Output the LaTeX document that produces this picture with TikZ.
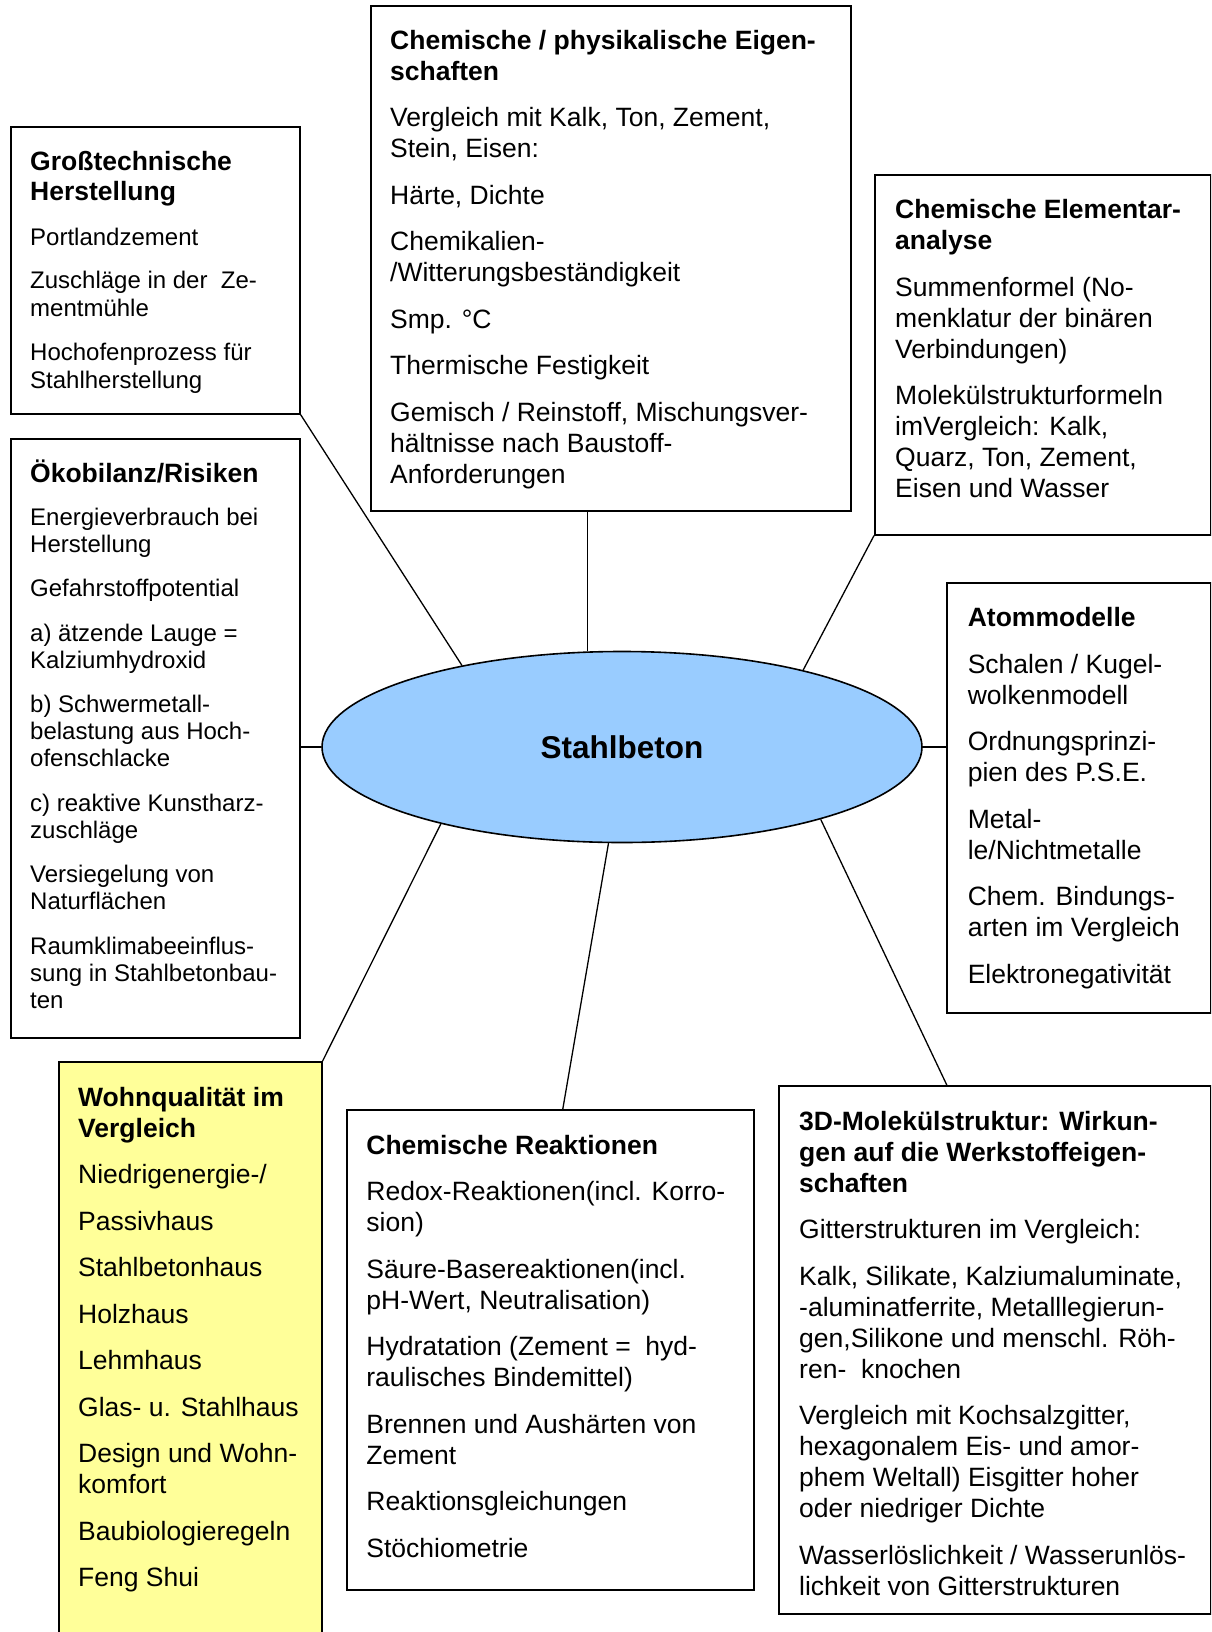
\documentclass[tikz,border=0pt]{standalone}
\usepackage{fontspec}
\setmainfont{Liberation Sans}
\usetikzlibrary{shapes.geometric}
\definecolor{hubblue}{RGB}{153,204,255}
\definecolor{notepaper}{RGB}{255,255,153}
\newcommand{\pg}{\\[15.5pt]}
% headings of the two boxes set in the smaller body size
\newcommand{\bighead}[1]{{\fontsize{26.5}{28}\selectfont\bfseries #1}}
\tikzset{
  topicbox/.style={draw, line width=1.6pt, anchor=north west, inner sep=0pt, fill=white},
  % a 25pt strut on the first line: the node top lies 25pt above its first baseline
  topictext/.style={anchor=north west, align=left, inner sep=0pt,
    font=\fontsize{26.5}{31}\selectfont, yshift=19pt,
    execute at begin node={\rule{0pt}{25pt}}},
  smalltext/.style={topictext, font=\fontsize{24}{28}\selectfont},
  spoke/.style={line width=1.3pt},
}
\begin{document}
\begin{tikzpicture}[x=1pt, y=-1pt]
\useasboundingbox (0,0) rectangle (1211,1632);
\clip (0,0) rectangle (1211,1632);

% frames of the topic boxes
\node[topicbox, minimum width=480, minimum height=505] (chem) at (370,5) {};
\node[topicbox, minimum width=289, minimum height=287] (gross) at (10,126) {};
\node[topicbox, minimum width=336, minimum height=360] (elem) at (874,174) {};
\node[topicbox, minimum width=289, minimum height=599] (oeko) at (10,438) {};
\node[topicbox, minimum width=264, minimum height=430] (atom) at (946,582) {};
\node[topicbox, fill=notepaper, minimum width=263, minimum height=600] (wohn) at (58,1061) {};
\node[topicbox, minimum width=407, minimum height=480] (reak) at (346,1109) {};
\node[topicbox, minimum width=432, minimum height=528] (mol) at (778,1085) {};

% central ellipse
\node[ellipse, draw, line width=1.6pt, fill=hubblue, minimum width=600,
  minimum height=191, inner sep=0pt, font=\fontsize{31.5}{36}\selectfont\bfseries]
  (ell) at (622,747) {Stahlbeton};

% spokes from the hub to the boxes
\draw[spoke] (ell.153.9) -- (gross.south east);
\draw[spoke] (ell.110.8) -- (ell.110.8 |- chem.south);
\draw[spoke] (ell.23) -- (elem.south west);
\draw[spoke] (ell.west) -- (ell.west -| oeko.east);
\draw[spoke] (ell.east) -- (ell.east -| atom.west);
\draw[spoke] (ell.203.2) -- (wohn.north east);
\draw[spoke] (ell.262) -- ([xshift=12.5pt]reak.north);
\draw[spoke] (ell.-20) -- ([xshift=-48pt]mol.north);

% box contents (each placed at the baseline of its first line)
\node[topictext] (chem-t) at (390,49) {%
\textbf{Chemische / physikalische Eigen-}\\
\textbf{schaften}\pg
Vergleich mit Kalk, Ton, Zement,\\
Stein, Eisen:\pg
Härte, Dichte\pg
Chemikalien-\\
/Witterungsbeständigkeit\pg
Smp. °C\pg
Thermische Festigkeit\pg
Gemisch / Reinstoff, Mischungsver-\\
hältnisse nach Baustoff-\\
Anforderungen};

\node[smalltext] (gross-t) at (30,170) {%
\bighead{Großtechnische}\\[2pt]
\bighead{Herstellung}\\[16.6pt]
Portlandzement\\[15.6pt]
Zuschläge in der~~Ze-\\
mentmühle\\[15.6pt]
Hochofenprozess für\\
Stahlherstellung};

\node[topictext] (elem-t) at (895,218.5) {%
\textbf{Chemische Elementar-}\\
\textbf{analyse}\pg
Summenformel (No-\\
menklatur der binären\\
Verbindungen)\pg
Molekülstrukturformeln\\
imVergleich: Kalk,\\
Quarz, Ton, Zement,\\
Eisen und Wasser};

\node[smalltext, font=\fontsize{24}{27}\selectfont] (oeko-t) at (30,478.5) {%
\bighead{Ökobilanz/Risiken}\\[16pt]
Energieverbrauch bei\\
Herstellung\\[17.5pt]
Gefahrstoffpotential\\[17.5pt]
a) ätzende Lauge =\\
Kalziumhydroxid\\[17.5pt]
b) Schwermetall-\\
belastung aus Hoch-\\
ofenschlacke\\[17.5pt]
c) reaktive Kunstharz-\\
zuschläge\\[17.5pt]
Versiegelung von\\
Naturflächen\\[17.5pt]
Raumklimabeeinflus-\\
sung in Stahlbetonbau-\\
ten};

\node[topictext] (atom-t) at (967.6,626.3) {%
\textbf{Atommodelle}\pg
Schalen / Kugel-\\
wolkenmodell\pg
Ordnungsprinzi-\\
pien des P.S.E.\pg
Metal-\\
le/Nichtmetalle\pg
Chem. Bindungs-\\
arten im Vergleich\pg
Elektronegativität};

\node[topictext] (wohn-t) at (78,1106) {%
\textbf{Wohnqualität im}\\
\textbf{Vergleich}\pg
Niedrigenergie-/\pg
Passivhaus\pg
Stahlbetonhaus\pg
Holzhaus\pg
Lehmhaus\pg
Glas- u. Stahlhaus\pg
Design und Wohn-\\
komfort\pg
Baubiologieregeln\pg
Feng Shui};

\node[topictext] (reak-t) at (366.2,1153.8) {%
\textbf{Chemische Reaktionen}\pg
Redox-Reaktionen(incl. Korro-\\
sion)\pg
Säure-Basereaktionen(incl.\\
pH-Wert, Neutralisation)\pg
Hydratation (Zement =~~hyd-\\
raulisches Bindemittel)\pg
Brennen und Aushärten von\\
Zement\pg
Reaktionsgleichungen\pg
Stöchiometrie};

\node[topictext] (mol-t) at (799,1129.9) {%
\textbf{3D-Molekülstruktur: Wirkun-}\\
\textbf{gen auf die Werkstoffeigen-}\\
\textbf{schaften}\pg
Gitterstrukturen im Vergleich:\pg
Kalk, Silikate, Kalziumaluminate,\\
-aluminatferrite, Metalllegierun-\\
gen,Silikone und menschl. Röh-\\
ren-~~knochen\pg
Vergleich mit Kochsalzgitter,\\
hexagonalem Eis- und amor-\\
phem Weltall) Eisgitter hoher\\
oder niedriger Dichte\pg
Wasserlöslichkeit / Wasserunlös-\\
lichkeit von Gitterstrukturen};
\end{tikzpicture}
\end{document}
